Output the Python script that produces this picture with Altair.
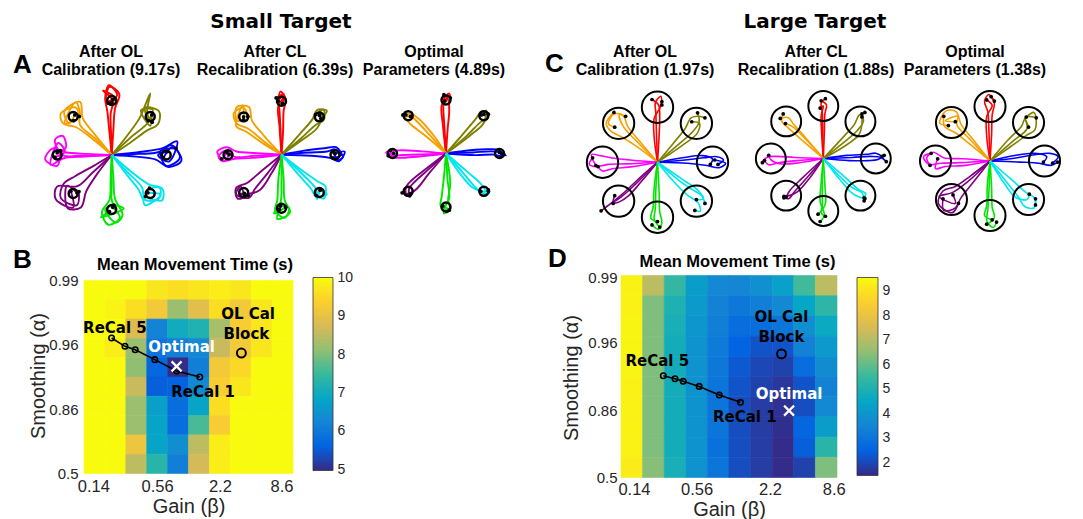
import altair as alt
import numpy as np
import pandas as pd

# ---------------- data ----------------
DIR_NAMES = ["E", "NE", "N", "NW", "W", "SW", "S", "SE"]
DIR_ANGLES = [0, 45, 90, 135, 180, 225, 270, 315]
DIR_COLORS = ["#0000ff", "#808000", "#ff0000", "#f5a000", "#ff00ff", "#800080", "#00e600", "#00e5ee"]

PANEL_LINE1 = ["After OL", "After CL", "Optimal", "After OL", "After CL", "Optimal"]
PANEL_LINE2 = ["Calibration (9.17s)", "Recalibration (6.39s)", "Parameters (4.89s)",
               "Calibration  (1.97s)", "Recalibration (1.88s)", "Parameters (1.38s)"]
LARGE_TARGET = [False, False, False, True, True, True]

# trajectories, one string per direction: paths separated by "|",
# points as (along, lateral) pairs in hundredths of the target distance
TRAJ_A1 = [
    "0 0 50 2 85 5 110 18 125 -5 100 -20 90 8 118 12 | 0 0 45 -3 80 -8 105 -22 128 -10 112 15 95 -5 | 0 0 55 6 92 12 120 25 105 -12 85 0 102 6",
    "0 0 40 -8 78 -14 100 -20 118 -5 105 18 92 -3 | 0 0 45 5 85 12 110 22 130 30 100 8 95 -10 | 0 0 50 -2 88 -5 112 6 96 20 88 -12 104 0",
    "0 0 40 4 80 8 105 12 128 5 110 -10 95 6 | 0 0 45 -3 85 -6 112 -14 125 4 98 10 102 -2 | 0 0 35 1 75 2 100 -2 118 16 105 -6 96 0",
    "0 0 45 4 82 10 105 22 120 12 108 -15 92 -8 | 0 0 50 -5 85 -10 110 -28 118 5 96 14 100 -4 | 0 0 42 0 80 2 98 -15 115 -22 102 20 94 5",
    "0 0 50 3 88 6 112 18 98 -22 86 -6 104 4 | 0 0 45 -2 85 -5 108 -12 122 8 100 20 94 -8 | 0 0 52 1 90 0 104 -28 90 -35 84 -14 100 -4",
    "0 0 40 -10 75 -20 100 -25 122 -10 110 20 90 5 | 0 0 45 6 80 14 108 28 126 12 98 -18 94 4 | 0 0 48 -2 85 -4 112 -30 130 -15 118 18 100 -6",
    "0 0 45 -2 82 -4 105 -18 128 -6 115 15 96 2 | 0 0 40 3 80 6 110 20 124 8 100 -12 92 4 | 0 0 50 0 88 2 98 22 114 -20 104 -4",
    "0 0 45 -6 80 -10 100 -16 118 4 105 20 92 6 | 0 0 50 4 86 10 110 22 124 6 98 -10 | 0 0 42 -2 82 -3 108 -22 115 12 96 -2",
]
TRAJ_A2 = [
    "0 0 50 4 85 6 100 10 115 -4 105 -10 98 4 | 0 0 55 -2 90 -6 108 -12 118 6 100 2 | 0 0 45 8 80 12 102 14 112 0 96 -6",
    "0 0 45 -4 85 -6 102 -10 115 4 98 8 | 0 0 50 3 88 6 106 12 118 -2 100 -4 | 0 0 48 -8 82 -12 98 -6 110 8 102 2",
    "0 0 50 2 85 4 100 6 114 -4 106 10 | 0 0 45 -3 82 -4 104 -8 118 2 100 6 | 0 0 55 4 90 6 108 -6 96 -2",
    "0 0 45 6 80 10 100 18 118 8 112 -12 95 -6 | 0 0 50 -2 84 -6 106 -20 122 -4 104 14 96 4 | 0 0 42 10 76 16 98 22 116 -14 100 0",
    "0 0 50 2 88 4 104 -8 118 4 108 12 98 0 | 0 0 46 -3 84 -6 102 -14 120 -6 112 8 | 0 0 54 6 90 8 110 12 102 -4",
    "0 0 42 6 80 10 100 14 112 -8 96 -12 104 6 | 0 0 48 -5 82 -8 104 -16 116 0 98 10 | 0 0 40 12 76 18 96 8 108 -4 100 2",
    "0 0 48 -6 86 -8 104 -12 118 6 100 14 96 -2 | 0 0 45 4 85 6 108 16 120 -8 102 -4 | 0 0 52 0 90 -2 110 -14 98 8",
    "0 0 50 -4 84 -6 102 -10 112 8 98 4 | 0 0 45 6 80 12 100 16 114 -2 100 -8 | 0 0 55 2 92 0 106 -12 96 6",
]
TRAJ_A3 = [
    "0 0 50 2 85 4 102 2 112 -4 104 0 | 0 0 55 -3 90 -2 106 -6 100 2 | 0 0 45 6 82 8 100 6 108 -2",
    "0 0 50 -4 85 -4 100 -6 110 4 102 2 | 0 0 45 3 82 6 104 8 108 -4 | 0 0 55 -8 88 -10 102 -2 98 4",
    "0 0 50 3 85 5 102 4 112 -6 104 -8 | 0 0 45 -3 80 -6 100 -4 110 4 | 0 0 55 6 90 8 104 -2 98 2",
    "0 0 48 -3 84 -4 100 -2 108 6 | 0 0 52 4 86 8 102 6 96 -2 | 0 0 45 -8 82 -10 98 -6 104 2",
    "0 0 50 2 86 3 102 4 112 -2 104 -6 | 0 0 45 -4 84 -6 100 -4 108 4 | 0 0 55 6 90 8 104 6 98 0",
    "0 0 45 -6 80 -10 98 -8 108 4 100 6 | 0 0 50 4 85 8 102 4 110 -6 | 0 0 42 -2 78 -4 96 -2 104 8",
    "0 0 50 3 84 6 100 -2 112 -4 106 6 | 0 0 45 -4 80 -8 98 -10 108 2 | 0 0 55 8 88 4 104 8 98 -6",
    "0 0 48 -3 84 -6 100 -4 110 4 104 8 | 0 0 52 4 86 6 102 2 96 -4 | 0 0 45 -8 80 -10 98 -2 106 6",
]
TRAJ_C1 = [
    "0 0 50 4 85 8 108 10 120 4 110 -4 | 0 0 55 -2 90 -6 112 -10 124 -2 104 4 | 0 0 45 8 82 12 100 6 96 -4",
    "0 0 50 -4 85 -6 105 -2 115 12 | 0 0 45 4 80 8 100 14 112 6 118 -4 | 0 0 52 -10 88 -14 104 -4 96 8",
    "0 0 55 2 90 3 108 4 120 -6 104 -8 | 0 0 50 -3 85 -4 104 -2 114 10 | 0 0 45 6 80 6 98 -4 110 -8",
    "0 0 50 -4 85 -8 104 -16 118 -6 112 14 100 10 | 0 0 45 6 80 14 100 20 116 16 120 -8 | 0 0 55 0 90 -2 110 -12 100 -18",
    "0 0 55 3 90 4 110 8 124 4 118 -8 | 0 0 50 -4 85 -8 104 -12 120 -14 112 6 | 0 0 45 8 82 12 100 16 108 8",
    "0 0 50 -3 85 -4 105 -6 120 -8 135 -10 | 0 0 45 4 80 6 100 2 110 -4 | 0 0 55 0 92 -2 108 -6 98 -12",
    "0 0 50 -3 85 -4 104 -6 118 4 | 0 0 55 3 90 4 110 8 122 2 114 -10 | 0 0 45 -6 82 -8 102 -12 108 0",
    "0 0 50 4 82 10 100 14 114 8 | 0 0 45 -4 80 -4 104 0 118 -8 110 -14 | 0 0 55 10 88 16 106 12 98 2",
]
TRAJ_C2 = [
    "0 0 55 2 90 4 110 2 120 -6 | 0 0 50 -4 85 -4 104 -2 116 6 | 0 0 45 6 82 8 100 10 112 4",
    "0 0 50 -6 85 -8 104 -4 112 8 | 0 0 55 2 88 4 106 10 118 6 | 0 0 45 -12 80 -16 98 -6 108 4",
    "0 0 55 1 90 2 106 4 114 -4 | 0 0 50 -2 85 -3 102 -6 110 4 | 0 0 45 3 82 4 100 0 96 6",
    "0 0 50 -4 86 -6 102 -8 112 4 | 0 0 55 4 90 6 106 6 114 -6 | 0 0 45 -2 82 -2 98 4",
    "0 0 50 4 86 8 104 12 112 4 | 0 0 55 -2 90 -4 108 -2 116 8 | 0 0 45 8 82 10 100 2 104 -6",
    "0 0 50 4 86 6 100 8 106 0 | 0 0 55 -2 88 -2 102 2 | 0 0 45 8 80 10 96 4 104 -2",
    "0 0 55 -2 90 -2 104 -4 110 4 | 0 0 50 3 86 4 100 -4 106 -10 | 0 0 45 -4 82 -6 108 2 120 -6",
    "0 0 50 -6 84 -8 100 -4 110 2 | 0 0 55 4 90 6 104 10 108 2 | 0 0 45 -2 80 0 98 6 112 -2",
]
TRAJ_C3 = [
    "0 0 50 6 85 12 110 14 125 8 115 -4 | 0 0 55 -2 90 -4 112 -8 124 -2 | 0 0 45 10 82 14 104 8 98 -2",
    "0 0 45 -8 80 -14 98 -18 112 -8 120 6 104 10 | 0 0 50 4 85 4 104 10 116 -4 | 0 0 55 -4 90 -6 100 8 94 -6",
    "0 0 55 2 90 4 110 10 122 2 110 -8 | 0 0 50 -3 85 -4 106 -8 118 -2 | 0 0 45 6 82 6 102 -4 112 6",
    "0 0 50 -6 85 -10 108 -20 122 -8 114 16 100 8 | 0 0 45 4 80 8 104 14 118 2 | 0 0 55 -2 90 -4 100 -16 110 6 96 -6",
    "0 0 55 3 90 4 112 6 122 -8 108 -14 | 0 0 50 -4 85 -6 104 -16 116 -6 110 8 | 0 0 45 8 82 10 100 14 96 -4",
    "0 0 45 -6 78 -12 100 -22 122 -12 116 18 96 14 | 0 0 50 6 85 10 106 16 124 4 110 -12 | 0 0 55 -2 90 -8 112 -20 100 10 92 -4",
    "0 0 55 -2 90 -4 110 -6 122 6 112 12 | 0 0 50 3 85 4 104 8 116 -6 | 0 0 45 -5 82 -6 100 -10 108 4",
    "0 0 50 -6 84 -10 104 -14 118 -4 108 10 | 0 0 55 4 88 6 106 10 116 2 | 0 0 45 -10 80 -14 98 -2 94 8",
]
TRAJ_ALL = [TRAJ_A1, TRAJ_A2, TRAJ_A3, TRAJ_C1, TRAJ_C2, TRAJ_C3]

# mean movement time grids (rows top -> bottom = smoothing 0.99 -> 0.5, cols = gain 0.14 -> 8.6)
MT_SMALL = [
    [10, 10, 10, 9.7, 9.6, 9.7, 9.8, 9.7, 10, 10],
    [10, 9.9, 9.6, 9.2, 8.2, 8.9, 9.6, 9.2, 9.7, 10],
    [10, 10, 8.8, 6.2, 7.0, 7.2, 8.3, 9.3, 9.7, 10],
    [10, 9.8, 8.2, 5.9, 6.1, 6.3, 8.6, 9.2, 9.7, 10],
    [10, 10, 8.1, 5.7, 5.0, 6.1, 9.2, 9.5, 10, 10],
    [10, 10, 8.6, 5.55, 5.6, 6.3, 9.3, 9.7, 10, 10],
    [10, 10, 8.2, 6.7, 5.8, 6.8, 9.6, 10, 10, 10],
    [10, 10, 8.2, 6.8, 5.8, 7.6, 9.3, 10, 10, 10],
    [10, 10, 9.1, 6.8, 6.4, 8.5, 9.8, 10, 10, 10],
    [10, 10, 8.5, 7.3, 6.1, 8.7, 9.8, 10, 10, 10],
]
MT_LARGE = [
    [9.3, 7.1, 5.4, 4.2, 3.6, 3.5, 3.8, 4.3, 5.6, 7.1],
    [9.3, 6.3, 5.0, 4.1, 3.4, 3.1, 3.3, 3.6, 4.5, 5.3],
    [9.4, 6.3, 4.9, 4.0, 3.3, 2.8, 2.8, 3.0, 3.8, 4.6],
    [9.4, 6.3, 4.8, 3.9, 3.2, 2.5, 2.2, 2.2, 3.4, 4.1],
    [9.4, 6.3, 4.8, 3.9, 3.1, 2.3, 2.0, 1.9, 2.8, 3.7],
    [9.3, 6.3, 4.8, 3.9, 3.0, 2.2, 1.9, 1.7, 2.2, 3.4],
    [9.3, 6.3, 4.8, 3.9, 3.0, 2.1, 1.8, 1.6, 2.1, 3.6],
    [9.3, 6.3, 4.8, 3.9, 3.0, 2.1, 1.8, 1.55, 2.6, 4.2],
    [9.3, 6.3, 4.8, 3.9, 2.9, 2.1, 1.8, 1.5, 2.4, 5.2],
    [9.2, 6.4, 4.9, 3.9, 3.0, 2.1, 1.8, 1.5, 1.9, 6.3],
]
GAIN_TICK_LABELS = ["0.14", "0.56", "2.2", "8.6"]
GAIN_TICK_CELLS_SMALL = [0.45, 3.5, 6.5, 9.45]
GAIN_TICK_CELLS_LARGE = [0.6, 3.5, 6.9, 9.85]
SMOOTH_TICK_LABELS = ["0.99", "0.96", "0.86", "0.5"]
SMOOTH_TICK_POS = [0.0, 10 / 3, 20 / 3, 10.0]

# recalibration paths / markers (cell units: x from left, y from top)
RECAL_SMALL_X = [1.32, 1.96, 2.45, 3.39, 4.43, 5.54]
RECAL_SMALL_Y = [2.98, 3.41, 3.59, 4.10, 4.69, 5.00]
OLCAL_SMALL = [7.53, 3.76]
OPT_SMALL = [4.43, 4.45]
LABELS_SMALL = ["ReCal 5", "Optimal", "ReCal 1", "OL Cal", "Block"]
LABELS_SMALL_X = [1.48, 4.67, 5.70, 7.85, 7.77]
LABELS_SMALL_Y = [2.45, 3.45, 5.78, 1.76, 2.76]

RECAL_LARGE_X = [1.96, 2.50, 2.88, 3.62, 4.55, 5.53]
RECAL_LARGE_Y = [4.96, 5.11, 5.24, 5.49, 5.92, 6.28]
OLCAL_LARGE = [7.43, 3.88]
OPT_LARGE = [7.78, 6.69]
LABELS_LARGE = ["ReCal 5", "Optimal", "ReCal 1", "OL Cal", "Block"]
LABELS_LARGE_X = [1.68, 7.78, 5.73, 7.43, 7.43]
LABELS_LARGE_Y = [4.25, 5.87, 7.02, 2.07, 3.06]
LABEL_COLORS = ["black", "white", "black", "black", "black"]

CB_SMALL = [4.97, 10.0]
CB_SMALL_TICKS = [5, 6, 7, 8, 9, 10]
CB_LARGE = [1.47, 9.53]
CB_LARGE_TICKS = [2, 3, 4, 5, 6, 7, 8, 9]

PARULA = ["#352a87", "#0363e1", "#1485d4", "#06a7c6", "#38b99e",
          "#92bf73", "#d9ba56", "#fcce2e", "#f9fb0e"]

# ---------------- layout (pixels) ----------------
TOP_W, TOP_H, GAP = 140, 160, 20
TOP_LEFT0, TOP_TOP = 84, 80
STAR_CX = [111.7, 281.5, 446.0, 657.5, 823.3, 990.0]
STAR_CY = [154.5, 154.2, 153.0, 161.7, 158.0, 160.5]
STAR_K = [54.5, 53.5, 53.5, 55.0, 52.5, 54.5]
TITLE_CX = [111, 275, 434, 645, 816, 975]

SANS = "Liberation Sans"
DEJAVU = "DejaVu Sans"
TXT = "#262626"

one = pd.DataFrame({"a": [0]})


def build_traj(strings):
    recs = []
    pid = 0
    for d, s in enumerate(strings):
        th = np.deg2rad(DIR_ANGLES[d])
        c, sn = np.cos(th), np.sin(th)
        for p in s.split("|"):
            nums = [float(t) / 100.0 for t in p.split()]
            for j in range(0, len(nums), 2):
                u, v = nums[j], nums[j + 1]
                recs.append({"dir": DIR_NAMES[d], "path": pid, "idx": j // 2,
                             "x": u * c - v * sn, "y": u * sn + v * c})
            pid += 1
    return pd.DataFrame(recs)


def text_layer(text, x, y, size, font, weight="bold", color="black", align="center"):
    return alt.Chart(one).mark_text(
        text=text, font=font, fontSize=size, fontWeight=weight, color=color,
        align=align, baseline="middle"
    ).encode(x=alt.value(x), y=alt.value(y))


def traj_panel(i):
    left = TOP_LEFT0 + i * (TOP_W + GAP)
    cx, cy, k = STAR_CX[i], STAR_CY[i], STAR_K[i]
    xs = alt.Scale(domain=[(left - cx) / k, (left + TOP_W - cx) / k], nice=False, zero=False)
    ys = alt.Scale(domain=[(cy - (TOP_TOP + TOP_H)) / k, (cy - TOP_TOP) / k], nice=False, zero=False)
    df = build_traj(TRAJ_ALL[i])
    ends = df.groupby("path").tail(1)
    tg = pd.DataFrame({"x": np.cos(np.deg2rad(DIR_ANGLES)), "y": np.sin(np.deg2rad(DIR_ANGLES))})
    col = alt.Color("dir:N", scale=alt.Scale(domain=DIR_NAMES, range=DIR_COLORS), legend=None)
    lw = 1.6 if LARGE_TARGET[i] else 1.9
    lines = alt.Chart(df).mark_line(strokeWidth=lw, interpolate="catmull-rom").encode(
        x=alt.X("x:Q", scale=xs, axis=None), y=alt.Y("y:Q", scale=ys, axis=None),
        color=col, detail="path:N", order="idx:Q")
    if LARGE_TARGET[i]:
        rings = alt.Chart(tg).mark_point(shape="circle", filled=False, color="black",
                                          size=(2 * 0.285 * k) ** 2, strokeWidth=2, opacity=1)
    else:
        rings = alt.Chart(tg).mark_point(shape="circle", filled=False, color="black",
                                          size=80, strokeWidth=2.5, opacity=1)
    rings = rings.encode(x=alt.X("x:Q", scale=xs, axis=None), y=alt.Y("y:Q", scale=ys, axis=None))
    dots = alt.Chart(ends).mark_circle(color="black", size=14, opacity=1).encode(
        x=alt.X("x:Q", scale=xs, axis=None), y=alt.Y("y:Q", scale=ys, axis=None))
    tx = TITLE_CX[i] - left
    layers = [lines, rings, dots,
              text_layer(PANEL_LINE1[i], tx, -29, 16, SANS),
              text_layer(PANEL_LINE2[i], tx, -11, 16, SANS)]
    if i == 0:
        layers.append(text_layer("A", 13 - left, -15.5, 26, SANS, align="left"))
    if i == 3:
        layers.append(text_layer("C", 545 - left, -16.5, 26, SANS, align="left"))
    if i == 1:
        layers.append(text_layer("Small Target", 281 - left, -58.7, 20, DEJAVU))
    if i == 4:
        layers.append(text_layer("Large Target", 815 - left, -58.7, 20, DEJAVU))
    return alt.layer(*layers).properties(width=TOP_W, height=TOP_H)


def label_expr(pos, labels):
    s = "''"
    for p, l in zip(pos[::-1], labels[::-1]):
        s = f"abs(datum.value - {p:.4f}) < 0.01 ? '{l}' : ({s})"
    return s


def cscale(lo, hi):
    return alt.Scale(domain=[float(v) for v in np.linspace(lo, hi, 9)], range=PARULA,
                     interpolate="rgb", clamp=True)


def heatmap(values, cb, w, h, ytop, gain_pos, rx, ry, olc, opt, labs, lx, ly,
            title_xy, letter, letter_xy, ylab_pad, ytitle_pad, xlab_pad):
    recs = []
    for r, row in enumerate(values):
        for c, v in enumerate(row):
            recs.append({"c0": c, "c1": c + 1, "r0": r, "r1": r + 1, "mt": v})
    df = pd.DataFrame(recs)
    xs = alt.Scale(domain=[0, 10], nice=False, zero=False)
    ys = alt.Scale(domain=[ytop, 10], nice=False, zero=False, reverse=True)
    ypos = [max(p, ytop) for p in SMOOTH_TICK_POS]
    xaxis = alt.Axis(values=gain_pos, labelExpr=label_expr(gain_pos, GAIN_TICK_LABELS),
                     title="Gain (β)", grid=False, domain=False, ticks=False,
                     labelFont=SANS, labelFontSize=16.5, labelColor=TXT, labelPadding=xlab_pad,
                     titleFont=SANS, titleFontSize=20, titleFontWeight="normal", titleColor=TXT,
                     titlePadding=1, labelFlush=False)
    yaxis = alt.Axis(values=ypos, labelExpr=label_expr(ypos, SMOOTH_TICK_LABELS),
                     title="Smoothing (α)", grid=False, domain=False, ticks=False,
                     labelFont=SANS, labelFontSize=15, labelColor=TXT, labelPadding=ylab_pad,
                     titleFont=SANS, titleFontSize=20, titleFontWeight="normal", titleColor=TXT,
                     titlePadding=ytitle_pad, labelFlush=False)
    cs = cscale(*cb)
    cells = alt.Chart(df).mark_rect(strokeWidth=0.6).encode(
        x=alt.X("c0:Q", scale=xs, axis=xaxis, title="Gain (β)"), x2="c1:Q",
        y=alt.Y("r0:Q", scale=ys, axis=yaxis, title="Smoothing (α)"), y2="r1:Q",
        color=alt.Color("mt:Q", scale=cs, legend=None),
        stroke=alt.Stroke("mt:Q", scale=cs, legend=None))
    pdf = pd.DataFrame({"x": rx, "y": ry, "i": list(range(len(rx)))})
    px = alt.X("x:Q", scale=xs, axis=xaxis, title="Gain (β)")
    py = alt.Y("y:Q", scale=ys, axis=yaxis, title="Smoothing (α)")
    path = alt.Chart(pdf).mark_line(color="black", strokeWidth=1.6).encode(x=px, y=py, order="i:Q")
    pts = alt.Chart(pdf).mark_point(shape="circle", filled=False, color="black", size=30,
                                    strokeWidth=1.6, opacity=1).encode(x=px, y=py)
    ol = alt.Chart(pd.DataFrame({"x": [olc[0]], "y": [olc[1]]})).mark_point(
        shape="circle", filled=False, color="black", size=80, strokeWidth=2, opacity=1).encode(x=px, y=py)
    op = alt.Chart(pd.DataFrame({"x": [opt[0]], "y": [opt[1]]})).mark_point(
        shape="M-1,-1L1,1M1,-1L-1,1", filled=False, color="white", size=100, strokeWidth=2.2,
        opacity=1).encode(x=px, y=py)
    ldf = pd.DataFrame({"t": labs, "x": lx, "y": ly, "c": LABEL_COLORS})
    lt = alt.Chart(ldf).mark_text(font=DEJAVU, fontSize=15, fontWeight="bold", baseline="middle").encode(
        x=px, y=py, text="t:N", color=alt.Color("c:N", scale=None))
    title = text_layer("Mean Movement Time (s)", title_xy[0], title_xy[1], 16.5, SANS)
    let = text_layer(letter, letter_xy[0], letter_xy[1], 26, SANS, align="left")
    return alt.layer(cells, path, pts, ol, op, lt, title, let).properties(width=w, height=h)


def colorbar(cb, ticks, w, h):
    lo, hi = cb
    vals = np.linspace(lo, hi, 121)
    step = vals[1] - vals[0]
    df = pd.DataFrame({"v0": vals[:-1], "v1": np.minimum(vals[1:] + step * 0.5, hi),
                       "vm": (vals[:-1] + vals[1:]) / 2})
    ys = alt.Scale(domain=[lo, hi], nice=False, zero=False)
    bar = alt.Chart(df).mark_rect().encode(
        x=alt.value(0), x2=alt.value(w),
        y=alt.Y("v0:Q", scale=ys, axis=alt.Axis(orient="right", values=ticks, format="d", title=None,
                                                 grid=False, domain=False, ticks=False,
                                                 labelFont=SANS, labelFontSize=14, labelColor=TXT,
                                                 labelPadding=4)),
        y2="v1:Q",
        color=alt.Color("vm:Q", scale=cscale(lo, hi), legend=None))
    border = alt.Chart(one).mark_rect(fill=None, stroke="#333333", strokeWidth=0.8).encode(
        x=alt.value(0), x2=alt.value(w), y=alt.value(0), y2=alt.value(h))
    return alt.layer(bar, border).properties(width=w, height=h)


B_LEFT, B_TOP, D_LEFT = 84, 277, 621
hm_b = heatmap(MT_SMALL, CB_SMALL, 209, 196, -0.155, GAIN_TICK_CELLS_SMALL,
               RECAL_SMALL_X, RECAL_SMALL_Y, OLCAL_SMALL,
               OPT_SMALL, LABELS_SMALL, LABELS_SMALL_X, LABELS_SMALL_Y,
               (195 - B_LEFT, 263 - B_TOP + 1), "B", (13 - B_LEFT, 257.5 - B_TOP + 1.5), 6, 0, 5)
hm_d = heatmap(MT_LARGE, CB_LARGE, 216, 200, 0.099, GAIN_TICK_CELLS_LARGE,
               RECAL_LARGE_X, RECAL_LARGE_Y, OLCAL_LARGE,
               OPT_LARGE, LABELS_LARGE, LABELS_LARGE_X, LABELS_LARGE_Y,
               (737.5 - D_LEFT, 260 - B_TOP + 1), "D", (548 - D_LEFT, 256.5 - B_TOP + 1.5), 4, 6, 4)
spacer = alt.Chart(one).mark_point(opacity=0).encode(x=alt.value(0), y=alt.value(0)).properties(
    width=248, height=10)

top = alt.hconcat(*[traj_panel(i) for i in range(6)], spacing=GAP, bounds="flush")
bottom = alt.hconcat(hm_b, colorbar(CB_SMALL, CB_SMALL_TICKS, 20, 193), spacer, hm_d,
                     colorbar(CB_LARGE, CB_LARGE_TICKS, 21, 198), spacing=GAP,
                     bounds="flush").resolve_scale(color="independent", stroke="independent")

chart = alt.vconcat(top, bottom, spacing=5).resolve_scale(
    color="independent", stroke="independent"
).properties(
    padding={"left": 5, "top": 3.5, "right": 5, "bottom": 0}, background="white"
).configure_view(stroke=None)

chart.save("out.html", embed_options={"renderer": "svg", "actions": False})
